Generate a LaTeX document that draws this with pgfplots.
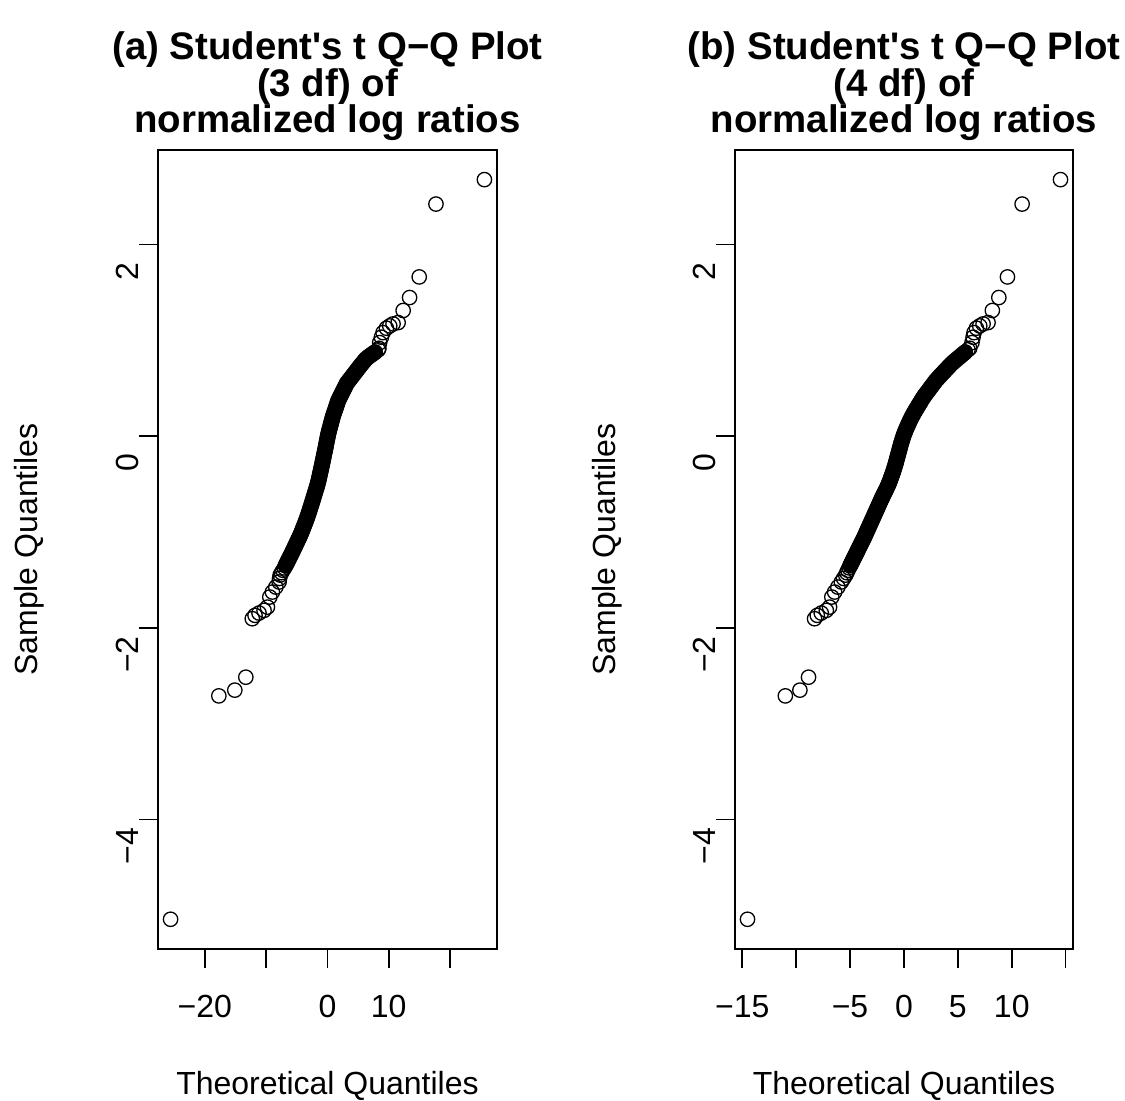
\documentclass[border=0pt]{standalone}
\usepackage{pgfplots}
\pgfplotsset{compat=1.18}
\usepackage{pgfplotstable}
\usepackage{fontspec}
\setmainfont{Liberation Sans}
\pgfplotstableread{
y xa xb
2.675 25.6 14.52
2.42 17.7 10.96
1.66 14.97 9.60
1.445 13.4 8.80
1.31 12.35 8.20
1.184 11.53 7.80
1.17 10.7 7.34
1.149 10.16 7.03
1.125 9.62 6.72
1.079 9.07 6.50
1.031 8.8 6.41
0.975 8.52 6.31
0.916 8.4 6.10
0.900 8.30 5.94
0.875 7.76 5.68
0.850 7.21 5.41
0.825 6.67 5.15
0.800 6.21 4.88
0.775 5.90 4.62
0.750 5.58 4.38
0.725 5.26 4.17
0.700 4.96 3.96
0.675 4.66 3.75
0.650 4.36 3.54
0.625 4.06 3.33
0.600 3.76 3.13
0.575 3.46 2.93
0.550 3.16 2.77
0.525 2.97 2.60
0.500 2.77 2.43
0.475 2.57 2.27
0.450 2.38 2.10
0.425 2.18 1.93
0.400 1.99 1.78
0.375 1.79 1.64
0.350 1.66 1.51
0.325 1.53 1.37
0.300 1.40 1.24
0.275 1.27 1.10
0.250 1.13 0.97
0.225 1.00 0.85
0.200 0.87 0.73
0.175 0.77 0.62
0.150 0.66 0.51
0.125 0.56 0.41
0.100 0.46 0.31
0.075 0.35 0.21
0.050 0.25 0.12
0.025 0.15 0.03
0.000 0.07 -0.05
-0.025 -0.01 -0.12
-0.050 -0.09 -0.19
-0.075 -0.16 -0.26
-0.100 -0.24 -0.32
-0.125 -0.31 -0.38
-0.150 -0.39 -0.44
-0.175 -0.48 -0.50
-0.200 -0.56 -0.56
-0.225 -0.64 -0.62
-0.250 -0.72 -0.68
-0.275 -0.80 -0.74
-0.300 -0.88 -0.80
-0.325 -0.97 -0.87
-0.350 -1.05 -0.94
-0.375 -1.14 -1.01
-0.400 -1.23 -1.09
-0.425 -1.31 -1.17
-0.450 -1.40 -1.25
-0.475 -1.49 -1.33
-0.500 -1.59 -1.42
-0.525 -1.70 -1.52
-0.550 -1.82 -1.62
-0.575 -1.94 -1.73
-0.600 -2.06 -1.84
-0.625 -2.18 -1.95
-0.650 -2.30 -2.06
-0.675 -2.42 -2.16
-0.700 -2.54 -2.26
-0.725 -2.66 -2.36
-0.750 -2.79 -2.46
-0.775 -2.91 -2.56
-0.800 -3.04 -2.66
-0.825 -3.17 -2.76
-0.850 -3.30 -2.86
-0.875 -3.44 -2.96
-0.900 -3.59 -3.06
-0.925 -3.74 -3.16
-0.950 -3.90 -3.26
-0.975 -4.05 -3.36
-1.000 -4.20 -3.46
-1.025 -4.36 -3.56
-1.050 -4.54 -3.66
-1.075 -4.73 -3.77
-1.100 -4.91 -3.88
-1.125 -5.09 -3.99
-1.150 -5.28 -4.10
-1.175 -5.46 -4.21
-1.200 -5.65 -4.32
-1.225 -5.84 -4.43
-1.250 -6.04 -4.54
-1.275 -6.23 -4.65
-1.300 -6.43 -4.76
-1.325 -6.62 -4.87
-1.350 -6.82 -4.98
-1.375 -7.01 -5.09
-1.400 -7.25 -5.20
-1.425 -7.48 -5.30
-1.450 -7.70 -5.40
-1.485 -7.80 -5.60
-1.522 -7.87 -5.81
-1.575 -8.41 -6.13
-1.627 -8.97 -6.43
-1.679 -9.39 -6.69
-1.784 -9.78 -6.90
-1.818 -10.33 -7.20
-1.846 -11.15 -7.67
-1.870 -11.80 -8.04
-1.905 -12.25 -8.29
-2.515 -13.3 -8.85
-2.65 -15.1 -9.65
-2.71 -17.7 -11.0
-5.04 -25.57 -14.51
}\qqdata

\pgfplotsset{
  qq/.style={
    anchor=south west, scale only axis, height=399.5pt,
    ymin=-5.35, ymax=2.984,
    axis line style={line width=0.8pt, black},
    tick style={line width=0.8pt, black},
    tick align=outside, major tick length=9.6pt,
    xtick pos=bottom, ytick pos=left,
    ytick={-4,-2,0,2}, yticklabels={−4,−2,0,2},
    tick label style={font=\fontsize{16}{19}\selectfont},
    xticklabel style={anchor=base, yshift=-24.9pt},
    yticklabel style={rotate=90, anchor=base, xshift=-13.4pt},
    label style={font=\fontsize{16}{19}\selectfont},
    xlabel={Theoretical Quantiles},
    ylabel={Sample Quantiles},
    xlabel style={at={(axis description cs:0.5,0)}, anchor=base, yshift=-73pt},
    ylabel style={at={(axis description cs:0,0.5)}, rotate=0, anchor=base, yshift=60pt},
    clip=false,
  },
  band/.style={draw=black, line width=8pt, line cap=round, line join=round, no marks, restrict y to domain=-1.36:0.88},
  pts/.style={only marks, mark=o, mark size=3.6pt, mark options={line width=0.65pt, draw=black}},
}

\begin{document}
\begin{tikzpicture}[x=1pt,y=1pt]
\useasboundingbox (0,0) rectangle (562.5,550.5);
\begin{axis}[qq, at={(79pt,76pt)}, width=169.5pt,
  xmin=-27.62, xmax=27.65,
  xtick={-20,-10,0,10,20}, xticklabels={−20,,0,10,}]
  \addplot[band] table[x=xa, y=y] {\qqdata};
  \addplot[pts] table[x=xa, y=y] {\qqdata};
\end{axis}
\begin{axis}[qq, at={(367.5pt,76pt)}, width=169pt,
  xmin=-15.67, xmax=15.68,
  xtick={-15,-10,-5,0,5,10,15}, xticklabels={−15,,−5,0,5,10,}]
  \addplot[band] table[x=xb, y=y] {\qqdata};
  \addplot[pts] table[x=xb, y=y] {\qqdata};
\end{axis}
\begin{scope}[every node/.style={anchor=base, inner sep=0pt, font=\fontsize{19.2}{22}\selectfont\bfseries}]
\node at (163.75,520.5) {(a) Student\textquotesingle s t Q−Q Plot};
\node at (163.75,502.25) {(3 df) of};
\node at (163.75,484) {normalized log ratios};
\node at (452,520.5) {(b) Student\textquotesingle s t Q−Q Plot};
\node at (452,502.25) {(4 df) of};
\node at (452,484) {normalized log ratios};
\end{scope}
\end{tikzpicture}
\end{document}
